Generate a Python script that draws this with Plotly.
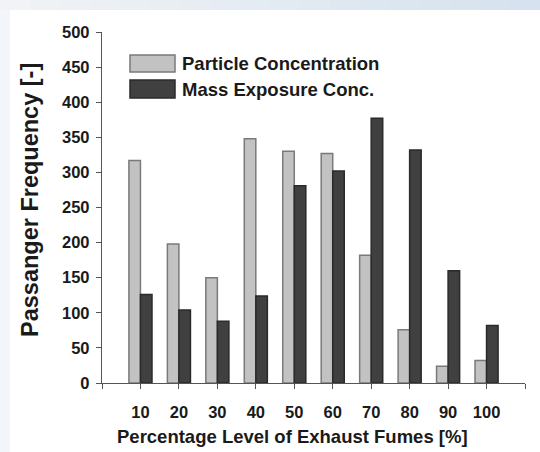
import plotly.graph_objects as go

# Exhaust fume level categories (%) and passenger frequencies
levels = [10, 20, 30, 40, 50, 60, 70, 80, 90, 100]
particle_conc = [317, 198, 150, 348, 330, 327, 182, 76, 24, 32]
mass_exposure = [126, 104, 88, 124, 281, 302, 377, 332, 160, 82]
x_tick_vals = [0, 10, 20, 30, 40, 50, 60, 70, 80, 90, 100, 110]
x_tick_text = ["", "10", "20", "30", "40", "50", "60", "70", "80", "90", "100", ""]
y_tick_vals = [0, 50, 100, 150, 200, 250, 300, 350, 400, 450, 500]

W, H = 540, 452
ML, MR, MT, MB = 102, 15, 32, 69
PW, PH = W - ML - MR, H - MT - MB

FONT = "Liberation Sans, Arial, sans-serif"
TEXT = "#1a1a1a"
LIGHT, LIGHT_EDGE = "#c2c2c2", "#7a7a7a"
DARK, DARK_EDGE = "#404040", "#2a2a2a"


def px(xp):
    return (xp - ML) / PW


def py(yp):
    return 1 - (yp - MT) / PH


fig = go.Figure()
fig.add_trace(go.Bar(
    x=levels, y=particle_conc, name="Particle Concentration",
    marker=dict(color=LIGHT, line=dict(color=LIGHT_EDGE, width=1.5)),
))
fig.add_trace(go.Bar(
    x=levels, y=mass_exposure, name="Mass Exposure Conc.",
    marker=dict(color=DARK, line=dict(color=DARK_EDGE, width=1.5)),
))

shapes = []
# pale framing band along the top (light-blue gradient) and the left edge
steps = 18
for i in range(steps):
    t = i / (steps - 1)
    r = int(0xf1 + (0xd6 - 0xf1) * t)
    g = int(0xf3 + (0xe2 - 0xf3) * t)
    b = int(0xf6 + (0xef - 0xf6) * t)
    shapes.append(dict(
        type="rect", xref="paper", yref="paper", layer="below",
        x0=px(W * i / steps), x1=px(W * (i + 1) / steps + 1),
        y0=py(10), y1=py(0), line=dict(width=0),
        fillcolor=f"rgb({r},{g},{b})",
    ))
shapes.append(dict(
    type="rect", xref="paper", yref="paper", layer="below",
    x0=px(0), x1=px(10), y0=py(H), y1=py(10), line=dict(width=0),
    fillcolor="#f2f6fb",
))

# legend swatches
shapes.append(dict(type="rect", xref="paper", yref="paper",
                   x0=px(130), x1=px(175), y0=py(72), y1=py(55),
                   fillcolor=LIGHT, line=dict(color=LIGHT_EDGE, width=1.5)))
shapes.append(dict(type="rect", xref="paper", yref="paper",
                   x0=px(130), x1=px(175), y0=py(98), y1=py(80),
                   fillcolor=DARK, line=dict(color=DARK_EDGE, width=1.5)))

annotations = [
    dict(text="<b>Particle Concentration</b>", xref="paper", yref="paper",
         x=px(180), y=py(63.5), xanchor="left", yanchor="middle",
         showarrow=False, font=dict(family=FONT, size=18.5, color=TEXT)),
    dict(text="<b>Mass Exposure Conc.</b>", xref="paper", yref="paper",
         x=px(180), y=py(89), xanchor="left", yanchor="middle",
         showarrow=False, font=dict(family=FONT, size=18.5, color=TEXT)),
    # axis titles
    dict(text="<b>Percentage Level of Exhaust Fumes [%]</b>", xref="paper", yref="paper",
         x=px(292), y=py(437), xanchor="center", yanchor="middle",
         showarrow=False, font=dict(family=FONT, size=18.5, color=TEXT)),
    dict(text="<b>Passanger Frequency [-]</b>", xref="paper", yref="paper",
         x=px(30), y=py(200), xanchor="center", yanchor="middle", textangle=-90,
         showarrow=False, font=dict(family=FONT, size=23.5, color=TEXT)),
]

axis_common = dict(
    showline=True, linecolor="#555555", linewidth=1.4,
    ticks="outside", ticklen=5, tickwidth=1.2, tickcolor="#555555",
    showgrid=False, zeroline=False, automargin=False,
    tickfont=dict(family=FONT, size=16.5, color=TEXT),
)

fig.update_layout(
    width=W, height=H,
    margin=dict(l=ML, r=MR, t=MT, b=MB),
    paper_bgcolor="white", plot_bgcolor="white",
    barmode="group", bargap=0.4, bargroupgap=0,
    showlegend=False,
    shapes=shapes, annotations=annotations,
    xaxis=dict(
        range=[0, 110], tickmode="array",
        tickvals=x_tick_vals, ticktext=[f"<b>{t}</b>" if t else "" for t in x_tick_text],
        ticklabelstandoff=9,
        **axis_common,
    ),
    yaxis=dict(
        range=[0, 500], tickmode="array",
        tickvals=y_tick_vals, ticktext=[f"<b>{v}</b>" for v in y_tick_vals],
        ticklabelstandoff=3,
        **axis_common,
    ),
)

fig.write_html("out.html")
